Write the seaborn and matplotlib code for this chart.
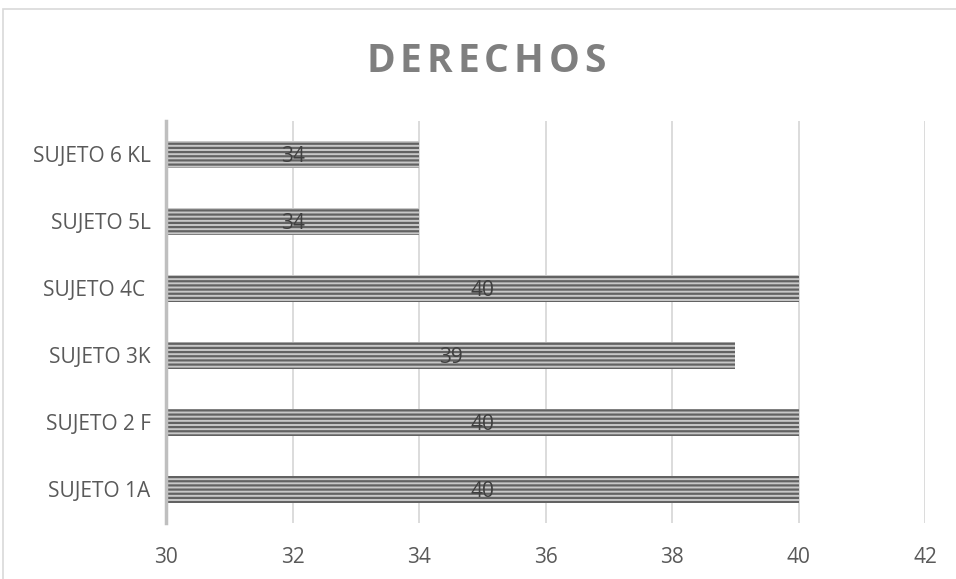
import matplotlib
matplotlib.use("Agg")
import matplotlib.pyplot as plt
import matplotlib.patches as mpatches
import seaborn as sns
import pandas as pd

# data, top to bottom
sujetos = ["SUJETO 6 KL", "SUJETO 5L", "SUJETO 4C ", "SUJETO 3K", "SUJETO 2 F", "SUJETO 1A"]
valores = [34, 34, 40, 39, 40, 40]
x_ticks = [30, 32, 34, 36, 38, 40, 42]
titulo = "DERECHOS"

data = pd.DataFrame({"sujeto": sujetos, "valor": valores})

sns.set_style("white")
plt.rcParams["font.family"] = ["Open Sans", "DejaVu Sans"]
plt.rcParams["hatch.color"] = "#626262"
plt.rcParams["hatch.linewidth"] = 1.6

fig = plt.figure(figsize=(9.56, 5.79), dpi=100)
ax = fig.add_axes([166 / 956, 56 / 579, (925 - 166) / 956, (523 - 121) / 579])

sns.barplot(data=data, x="valor", y="sujeto", orient="h", ax=ax,
            color="#c8c8c8", width=0.4, saturation=1)
for bar in ax.patches:
    bar.set_hatch("----")
    bar.set_edgecolor("#626262")
    bar.set_linewidth(0)

# value labels in the middle of each bar (bars start at axis min 30)
for i, v in enumerate(valores):
    ax.text((30 + v) / 2, i + 0.03, str(v), ha="center", va="center",
            fontsize=15, color="#404040")

ax.set_xlim(30, 42)
ax.set_xticks(x_ticks)
ax.set_xlabel("")
ax.set_ylabel("")
ax.grid(axis="x", color="#d9d9d9", linewidth=1.3)
ax.set_axisbelow(True)
for side in ["top", "right", "bottom"]:
    ax.spines[side].set_visible(False)
ax.spines["left"].set_color("#bfbfbf")
ax.spines["left"].set_linewidth(2.5)
ax.tick_params(axis="both", length=0, labelsize=15, labelcolor="#595959")
ax.tick_params(axis="x", pad=17)
ax.tick_params(axis="y", pad=11)

# title with wider letter spacing, letters laid out one by one
renderer = fig.canvas.get_renderer()
espacio = 5
widths = []
for ch in titulo:
    t = fig.text(0, 0, ch, fontsize=28, fontweight="bold")
    widths.append(t.get_window_extent(renderer).width)
    t.remove()
total = sum(widths) + espacio * (len(titulo) - 1)
x = 486 - total / 2
for ch, w in zip(titulo, widths):
    fig.text(x / 956, 1 - 61 / 579, ch, ha="left", va="center",
             fontsize=28, fontweight="bold", color="#7f7f7f")
    x += w + espacio

# outer chart border
fig.patches.append(mpatches.Rectangle((3 / 956, -0.1), 1.2, 1 - 9 / 579 + 0.1,
                                      transform=fig.transFigure, fill=False,
                                      edgecolor="#d9d9d9", linewidth=1.2))

fig.savefig("out.png", dpi=100)
